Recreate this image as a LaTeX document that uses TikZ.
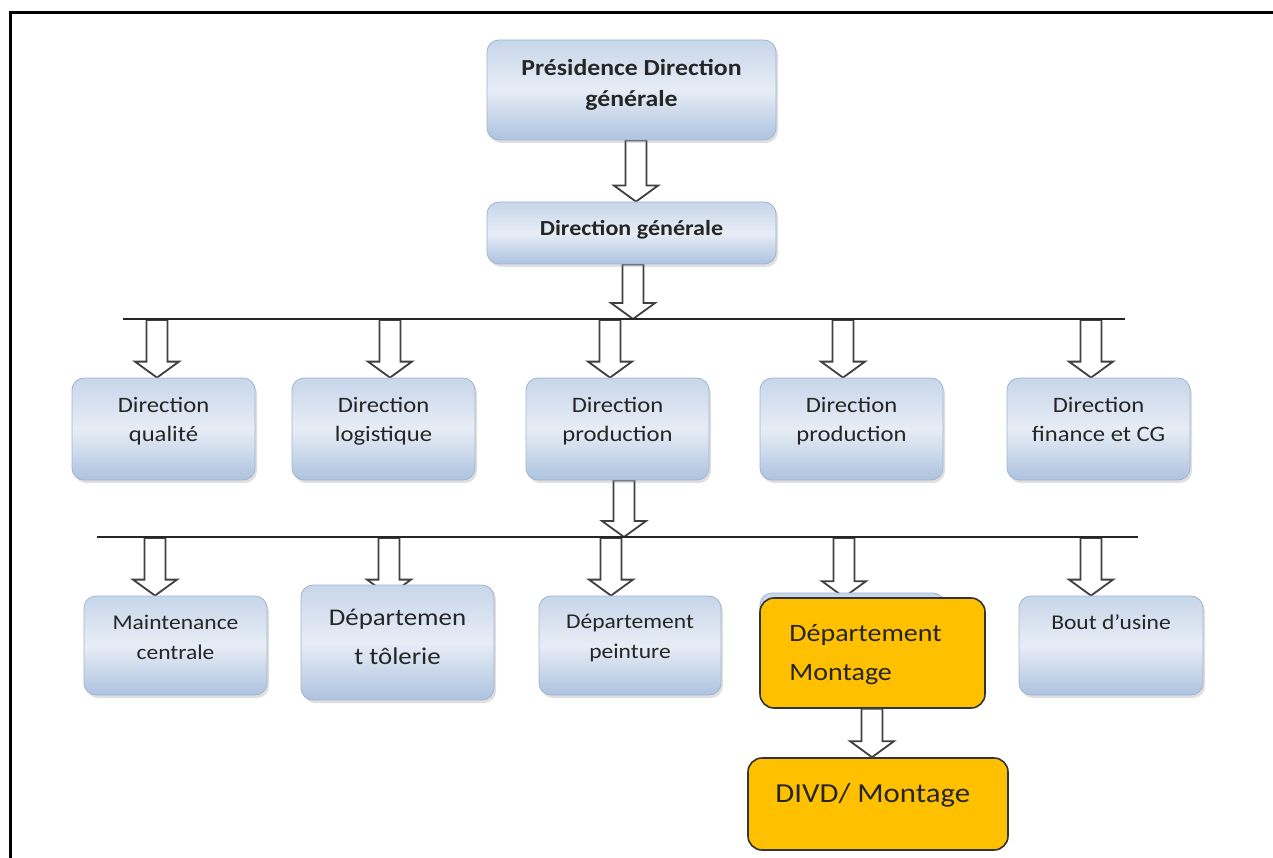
\documentclass[tikz,border=0pt]{standalone}
\usepackage{fontspec}
\setmainfont{Carlito}[FakeStretch=1.12]
\usetikzlibrary{calc,shadows,backgrounds}

\definecolor{bluetop}{HTML}{C7D6EA}
\definecolor{bluemid}{HTML}{E7EDF6}
\definecolor{bluebot}{HTML}{ADC3E0}
\definecolor{boxedge}{HTML}{9FB4CF}
\definecolor{gold}{HTML}{FFC000}
\definecolor{ink}{HTML}{262626}
\definecolor{arrowink}{HTML}{404040}

\tikzset{
  bluebox/.style={rounded corners=12pt, draw=boxedge, line width=0.8pt,
    top color=bluetop, bottom color=bluebot, middle color=bluemid,
    drop shadow={shadow xshift=2pt, shadow yshift=-3pt, opacity=0.25},
    inner sep=0pt},
  goldbox/.style={rounded corners=14pt, draw=black!80, line width=1.6pt,
    fill=gold, inner sep=0pt},
  txt/.style={align=center, text=ink, inner sep=0pt,
    font=\fontsize{22}{29}\selectfont},
  boldtxt/.style={align=center, text=ink, inner sep=0pt,
    font=\fontsize{23}{31}\selectfont\bfseries},
  hollow/.style={draw=arrowink, line width=1.8pt, fill=white, line join=miter},
  busline/.style={draw=black!85, line width=2.2pt},
}

% hollow block arrow: starts at #1, tip at the height of #2
\newcommand\blockarrow[2]{%
  \draw[hollow] let \p1=(#1), \p2=(#2) in
    (\x1-10.5pt,\y1) -- (\x1-10.5pt,\y2+16pt) -- (\x1-22pt,\y2+16pt)
    -- (\x1,\y2) -- (\x1+22pt,\y2+16pt) -- (\x1+10.5pt,\y2+16pt)
    -- (\x1+10.5pt,\y1) -- cycle;}

\begin{document}
\begin{tikzpicture}[x=1pt,y=-1pt]
\useasboundingbox (0,0) rectangle (1273,858);
\draw[line width=3pt] (10,860) -- (10,13) -- (1275,13);

% top of the chart
\node[bluebox, minimum width=289, minimum height=100,
  label={[boldtxt, yshift=5.5pt]center:{Présidence Direction\\générale}}]
  (pres) at (631.5,90) {};
\node[bluebox, minimum width=289, minimum height=62,
  label={[boldtxt, yshift=3pt, font=\fontsize{21.5}{26}\selectfont\bfseries]center:{Direction générale}}]
  (dg) at (631.5,233) {};

% directions
\foreach \nm/\cx/\dy/\t in {qual/163.5/7.5/{Direction\\qualité},
                        logi/383.5/7.5/{Direction\\logistique},
                        prod/617.5/7.5/{Direction\\production},
                        prodb/851.5/7.5/{Direction\\production},
                        fin/1098.5/9.5/{Direction\\finance et CG}}
  \node[bluebox, minimum width=183, minimum height=102,
    label={[txt, yshift=\dy pt]center:\t}] (\nm) at (\cx,429) {};

% departments
\node[bluebox, minimum width=183, minimum height=99,
  label={[txt, yshift=8.5pt, font=\fontsize{21}{30}\selectfont]center:{Maintenance\\centrale}}]
  (maint) at (175.5,645.5) {};
\node[bluebox, minimum width=193, minimum height=115,
  label={[txt, yshift=5.5pt, font=\fontsize{24}{39}\selectfont]center:{Départemen\\t tôlerie}}]
  (tol) at (397.5,642.5) {};
\node[bluebox, minimum width=182, minimum height=99,
  label={[txt, yshift=7pt, font=\fontsize{21}{30}\selectfont]center:{Département\\peinture}}]
  (pein) at (630,645.5) {};
\node[bluebox, minimum width=185, minimum height=102] (montback) at (852.5,644) {};
\node[goldbox, minimum width=225, minimum height=110,
  label={[txt, align=left, anchor=west, xshift=30pt, yshift=-2pt,
    font=\fontsize{25}{39}\selectfont]west:{Département\\Montage}}]
  (mont) at (872.5,653) {};
\node[bluebox, minimum width=184, minimum height=99,
  label={[txt, yshift=23.5pt, font=\fontsize{21}{30}\selectfont]center:{Bout d’usine}}]
  (bout) at (1111,645.5) {};
\node[goldbox, minimum width=260, minimum height=92,
  label={[txt, anchor=west, xshift=28pt, yshift=9pt,
    font=\fontsize{27.5}{33}\selectfont]west:{DIVD/ Montage}}]
  (divd) at (878,804) {};

% distribution lines
\coordinate (b1w) at (123,319);  \coordinate (b1e) at (1125,319);
\coordinate (b2w) at (97,537);   \coordinate (b2e) at (1138,537);
\foreach \nm/\cx in {qa/157, la/390, pa/610, pba/843, fa/1091}
  \coordinate (\nm) at (\cx,320);
\foreach \nm/\cx in {ma/155, ta/389, pea/611, moa/844, ba/1091}
  \coordinate (\nm) at (\cx,538);
\coordinate (tolstop) at ($(tol.north)+(0,11)$);

\begin{scope}[on background layer]
  \blockarrow{$(pres.south)+(4.5,0)$}{dg.north}
  \blockarrow{$(dg.south)+(1.5,0)$}{b1w}
  \blockarrow{qa}{qual.north}
  \blockarrow{la}{logi.north}
  \blockarrow{pa}{prod.north}
  \blockarrow{pba}{prodb.north}
  \blockarrow{fa}{fin.north}
  \blockarrow{$(prod.south)+(6.5,0)$}{b2w}
  \blockarrow{ma}{maint.north}
  \blockarrow{ta}{tolstop}
  \blockarrow{pea}{pein.north}
  \blockarrow{moa}{mont.north}
  \blockarrow{ba}{bout.north}
  \draw[busline] (b1w) -- (b1e);
  \draw[busline] (b2w) -- (b2e);
\end{scope}
\blockarrow{$(mont.south)+(-0.5,0)$}{divd.north}
\end{tikzpicture}
\end{document}
